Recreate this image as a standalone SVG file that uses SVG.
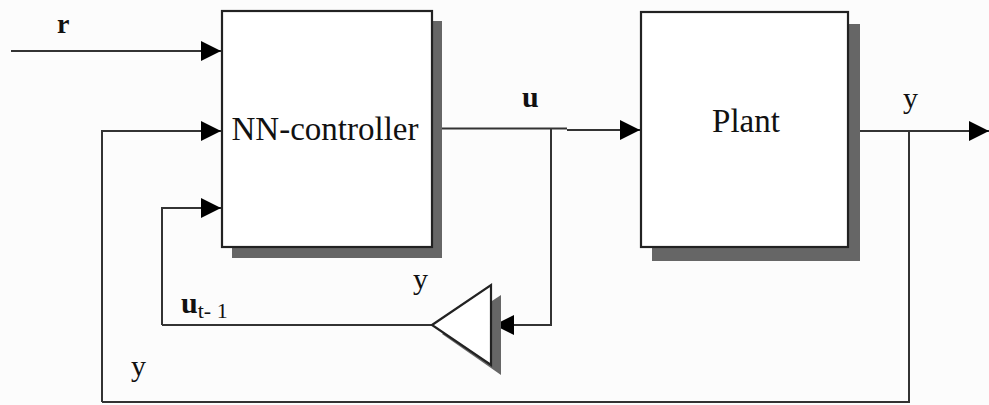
<svg xmlns="http://www.w3.org/2000/svg" width="989" height="405" viewBox="0 0 989 405">
<defs>
<style>
.bg{fill:#fcfcfc}
.box{fill:#ffffff;stroke:#222;stroke-width:2.2}
.shadow{fill:#666}
.wire{fill:none;stroke:#333;stroke-width:2}
.lbl{font-family:"Liberation Serif","Times New Roman",serif;fill:#111}
.big{font-size:33px}
.sig{font-size:30px}
.b{font-weight:bold}
</style>
<marker id="arr" viewBox="0 0 20 20" refX="20" refY="10" markerWidth="21" markerHeight="20" markerUnits="userSpaceOnUse" orient="auto">
<path d="M0,0 L20,10 L0,20 Z" fill="#000"/>
</marker>
</defs>
<rect class="bg" x="0" y="0" width="989" height="405"/>

<g id="connectors">
<path class="wire" d="M11,51 H221" marker-end="url(#arr)"/>
<path class="wire" d="M102,402 V131 H221" marker-end="url(#arr)"/>
<path class="wire" d="M162,325 V208 H221" marker-end="url(#arr)"/>
<path class="wire" d="M433,128.5 H567 M567,130 H640" marker-end="url(#arr)"/>
<path class="wire" d="M551,129 V325 H494" marker-end="url(#arr)"/>
<path class="wire" d="M432,325 H162"/>
<path class="wire" d="M849,131 H989" marker-end="url(#arr)"/>
<path class="wire" d="M909,131 V402 H102"/>
</g>

<g id="nn-controller">
<rect class="shadow" x="232" y="21" width="210" height="237"/>
<rect class="box" x="222" y="11" width="210" height="236"/>
<text class="lbl big" x="325" y="140" text-anchor="middle">NN-controller</text>
</g>

<g id="plant">
<rect class="shadow" x="652" y="24" width="208" height="237"/>
<rect class="box" x="641" y="12" width="207" height="235"/>
<text class="lbl big" x="746" y="132" text-anchor="middle">Plant</text>
</g>

<g id="delay">
<polygon class="shadow" points="442,334 501,295 501,375"/>
<polygon class="box" points="432,325 491,285 491,365"/>
</g>

<g id="labels">
<text class="lbl b" x="57" y="33" font-size="28">r</text>
<text class="lbl sig b" x="522" y="107">u</text>
<text class="lbl sig" x="903" y="108">y</text>
<text class="lbl sig" x="413" y="289">y</text>
<text class="lbl sig" x="131" y="376">y</text>
<text class="lbl sig b" x="181" y="313">u<tspan font-size="22" font-weight="normal" dy="5">t- 1</tspan></text>
</g>
</svg>
